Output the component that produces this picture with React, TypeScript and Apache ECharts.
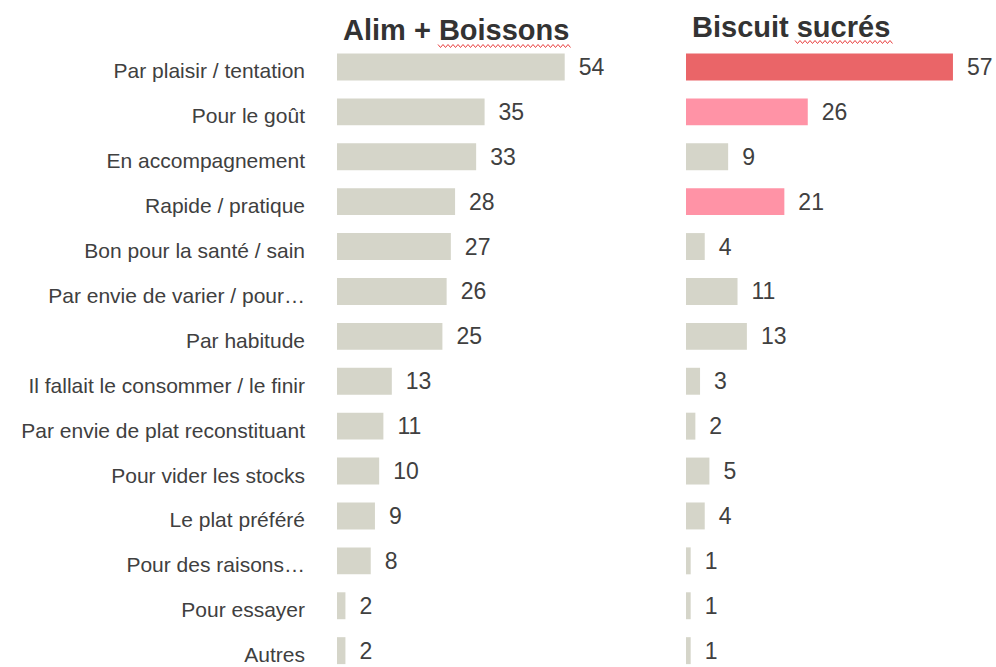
import React, { useEffect, useRef } from "react";
import * as echarts from "echarts";

const categories = [
  "Par plaisir / tentation",
  "Pour le goût",
  "En accompagnement",
  "Rapide / pratique",
  "Bon pour la santé / sain",
  "Par envie de varier / pour…",
  "Par habitude",
  "Il fallait le consommer / le finir",
  "Par envie de plat reconstituant",
  "Pour vider les stocks",
  "Le plat préféré",
  "Pour des raisons…",
  "Pour essayer",
  "Autres",
];
const alimValues = [54, 35, 33, 28, 27, 26, 25, 13, 11, 10, 9, 8, 2, 2];
const biscuitValues = [57, 26, 9, 21, 4, 11, 13, 3, 2, 5, 4, 1, 1, 1];
const biscuitHighlight = ["red", "pink", "", "pink", "", "", "", "", "", "", "", "", "", ""];
const titles = ["Alim + Boissons", "Biscuit sucrés"];

const GRAY = "#d5d5c9";
const RED = "#ea6568";
const PINK = "#ff93a6";
const TEXT = "#404040";
const FONT = "'Liberation Sans', Arial, sans-serif";

function squiggle(x0: number, x1: number, y: number) {
  const pts: number[][] = [];
  let up = true;
  for (let x = x0; x <= x1; x += 2.5) {
    pts.push([x, up ? y - 1.5 : y + 1.5]);
    up = !up;
  }
  return pts;
}

export default function App() {
  const ref = useRef<HTMLDivElement>(null);
  useEffect(() => {
    if (!ref.current) return;
    document.body.style.overflow = "hidden";
    const chart = echarts.init(ref.current, null, { renderer: "svg" });
    const top = 44.5;
    const height = 628.6;
    const valueLabel = {
      show: true,
      position: "right",
      distance: 14,
      color: TEXT,
      fontSize: 23,
      fontFamily: FONT,
    };
    chart.setOption({
      animation: false,
      backgroundColor: "#ffffff",
      grid: [
        { left: 337, width: 253, top, height },
        { left: 686, width: 281, top, height },
      ],
      xAxis: [
        { gridIndex: 0, type: "value", min: 0, max: 60, show: false },
        { gridIndex: 1, type: "value", min: 0, max: 60, show: false },
      ],
      yAxis: [
        {
          gridIndex: 0,
          type: "category",
          data: categories,
          inverse: true,
          axisLine: { show: false },
          axisTick: { show: false },
          splitLine: { show: false },
          axisLabel: {
            margin: 32,
            color: TEXT,
            fontSize: 21,
            fontFamily: FONT,
            verticalAlign: "top",
            lineHeight: 8,
          },
        },
        {
          gridIndex: 1,
          type: "category",
          data: categories,
          inverse: true,
          axisLine: { show: false },
          axisTick: { show: false },
          splitLine: { show: false },
          axisLabel: { show: false },
        },
      ],
      series: [
        {
          type: "bar",
          xAxisIndex: 0,
          yAxisIndex: 0,
          data: alimValues,
          barCategoryGap: "40%",
          itemStyle: { color: GRAY },
          label: valueLabel,
        },
        {
          type: "bar",
          xAxisIndex: 1,
          yAxisIndex: 1,
          data: biscuitValues.map((v, i) => ({
            value: v,
            itemStyle: {
              color:
                biscuitHighlight[i] === "red"
                  ? RED
                  : biscuitHighlight[i] === "pink"
                  ? PINK
                  : GRAY,
            },
          })),
          barCategoryGap: "40%",
          label: valueLabel,
        },
      ],
      graphic: [
        {
          type: "text",
          x: 343,
          y: 30,
          style: {
            text: titles[0],
            fill: "#333333",
            font: `bold 29px ${FONT}`,
            verticalAlign: "middle",
          },
        },
        {
          type: "text",
          x: 692,
          y: 27,
          style: {
            text: titles[1],
            fill: "#333333",
            font: `bold 29px ${FONT}`,
            verticalAlign: "middle",
          },
        },
        {
          type: "polyline",
          shape: { points: squiggle(438, 572, 46) },
          style: { stroke: "#e84040", lineWidth: 1, fill: null },
        },
        {
          type: "polyline",
          shape: { points: squiggle(795, 893, 42) },
          style: { stroke: "#e84040", lineWidth: 1, fill: null },
        },
      ],
    });
    return () => chart.dispose();
  }, []);
  return (
    <div
      ref={ref}
      style={{ position: "fixed", left: 0, top: 0, width: 996, height: 690 }}
    />
  );
}
